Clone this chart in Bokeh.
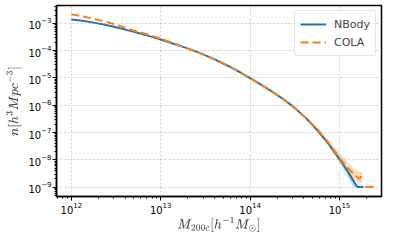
from bokeh.plotting import figure
from bokeh.models import Range1d, Legend, LegendItem
from bokeh.embed import file_html
from bokeh.resources import INLINE

NAN = float("nan")

# ---- data ----
nbody_mass = [1.0e12, 1.334e12, 1.778e12, 2.371e12, 3.162e12, 4.217e12, 5.623e12, 7.499e12,
              1.0e13, 1.334e13, 1.778e13, 2.371e13, 3.162e13, 4.217e13, 5.623e13, 7.499e13,
              1.0e14, 1.334e14, 1.778e14, 2.371e14, 3.162e14, 4.217e14, 5.623e14, 7.499e14,
              1.0e15, 1.259e15, 1.413e15, 1.585e15, 1.862e15]
nbody_n = [1.380e-3, 1.236e-3, 1.064e-3, 8.83e-4, 7.16e-4, 5.65e-4, 4.43e-4, 3.41e-4,
           2.57e-4, 1.88e-4, 1.38e-4, 9.77e-5, 6.73e-5, 4.44e-5, 2.80e-5, 1.69e-5,
           9.77e-6, 5.57e-6, 3.09e-6, 1.64e-6, 7.98e-7, 3.37e-7, 1.23e-7, 3.89e-8,
           1.064e-8, 3.44e-9, 1.83e-9, 1.0e-9, 1.0e-9]

cola_mass = [1.0e12, 1.334e12, 1.778e12, 2.371e12, 3.162e12, 4.217e12, 5.623e12, 7.499e12,
             1.0e13, 1.334e13, 1.778e13, 2.371e13, 3.162e13, 4.217e13, 5.623e13, 7.499e13,
             1.0e14, 1.334e14, 1.778e14, 2.371e14, 3.162e14, 4.217e14, 5.623e14, 7.499e14,
             1.0e15, 1.230e15, 1.459e15, 1.656e15, 1.803e15, NAN, 1.950e15, 2.512e15]
cola_n = [2.138e-3, 1.820e-3, 1.479e-3, 1.175e-3, 9.12e-4, 6.46e-4, 4.90e-4, 3.72e-4,
          2.75e-4, 1.95e-4, 1.40e-4, 9.85e-5, 6.80e-5, 4.48e-5, 2.82e-5, 1.70e-5,
          9.85e-6, 5.60e-6, 3.12e-6, 1.66e-6, 8.10e-7, 3.42e-7, 1.32e-7, 4.30e-8,
          1.20e-8, 5.13e-9, 3.02e-9, 2.04e-9, 2.63e-9, NAN, 1.0e-9, 1.0e-9]

nbody_band_mass = [7.499e14, 1.0e15, 1.259e15, 1.413e15, 1.585e15]
nbody_band_lo = [3.4e-8, 8.6e-9, 2.2e-9, 1.1e-9, 0.9e-9]
nbody_band_hi = [4.5e-8, 1.25e-8, 4.2e-9, 2.3e-9, 1.15e-9]

cola_band_mass = [4.217e14, 5.623e14, 7.499e14, 1.0e15, 1.230e15, 1.459e15, 1.656e15, 1.803e15]
cola_band_lo = [3.0e-7, 1.1e-7, 3.4e-8, 8.5e-9, 3.5e-9, 1.9e-9, 1.35e-9, 1.5e-9]
cola_band_hi = [3.8e-7, 1.6e-7, 5.6e-8, 1.7e-8, 7.6e-9, 4.7e-9, 3.5e-9, 3.6e-9]

x_label = r"$$M_{200c}[h^{-1}M_\odot]$$"
y_label = r"$$n[h^3Mpc^{-3}]$$"

BLUE = "#1f77b4"
ORANGE = "#ff7f0e"
FONT = "DejaVu Sans"

p = figure(width=383, height=234, x_axis_type="log", y_axis_type="log",
           x_range=Range1d(10**11.834, 10**15.47),
           y_range=Range1d(10**-9.345, 10**-2.345),
           output_backend="svg", toolbar_location=None,
           min_border_left=56, min_border_right=2, min_border_top=5,
           min_border_bottom=34)

p.background_fill_color = "white"
p.border_fill_color = "white"
p.outline_line_color = "black"
p.outline_line_width = 1.5

for g in (p.xgrid, p.ygrid):
    g.grid_line_color = "#b0b0b0"
    g.grid_line_alpha = 0.6
    g.grid_line_dash = "2 2"
    g.grid_line_width = 1

for ax in (p.xaxis, p.yaxis):
    ax.axis_line_color = "black"
    ax.axis_line_width = 1.5
    ax.major_tick_in = 0
    ax.major_tick_out = 4
    ax.minor_tick_in = 0
    ax.minor_tick_out = 2
    ax.major_tick_line_width = 1
    ax.minor_tick_line_width = 1
    ax.major_label_text_font = FONT
    ax.major_label_text_font_size = "10px"
    ax.major_label_text_color = "black"
    ax.major_label_standoff = 1
    ax.axis_label_text_font_size = "10px"
    ax.axis_label_text_font_style = "normal"
    ax.ticker.num_minor_ticks = 10

p.xaxis.axis_label = x_label
p.yaxis.axis_label = y_label
p.xaxis.axis_label_standoff = 0
p.yaxis.axis_label_standoff = 4

p.varea(x=nbody_band_mass, y1=nbody_band_lo, y2=nbody_band_hi,
        fill_color=BLUE, fill_alpha=0.3)
p.varea(x=cola_band_mass, y1=cola_band_lo, y2=cola_band_hi,
        fill_color=ORANGE, fill_alpha=0.3)

r1 = p.line(nbody_mass, nbody_n, line_color=BLUE, line_width=2)
r2 = p.line(cola_mass, cola_n, line_color=ORANGE, line_width=2, line_dash="8 4")

legend = Legend(items=[LegendItem(label="NBody", renderers=[r1]),
                       LegendItem(label="COLA", renderers=[r2])],
                location="top_right")
legend.label_text_font = FONT
legend.label_text_font_size = "11px"
legend.border_line_color = "#cccccc"
legend.border_line_width = 1
legend.background_fill_alpha = 0.8
legend.glyph_width = 26
legend.glyph_height = 16
legend.spacing = 2
legend.padding = 5
legend.margin = 5
legend.label_standoff = 8
try:
    legend.border_radius = 3
except Exception:
    pass
p.add_layout(legend)

open("out.html", "w").write(file_html(p, INLINE))
